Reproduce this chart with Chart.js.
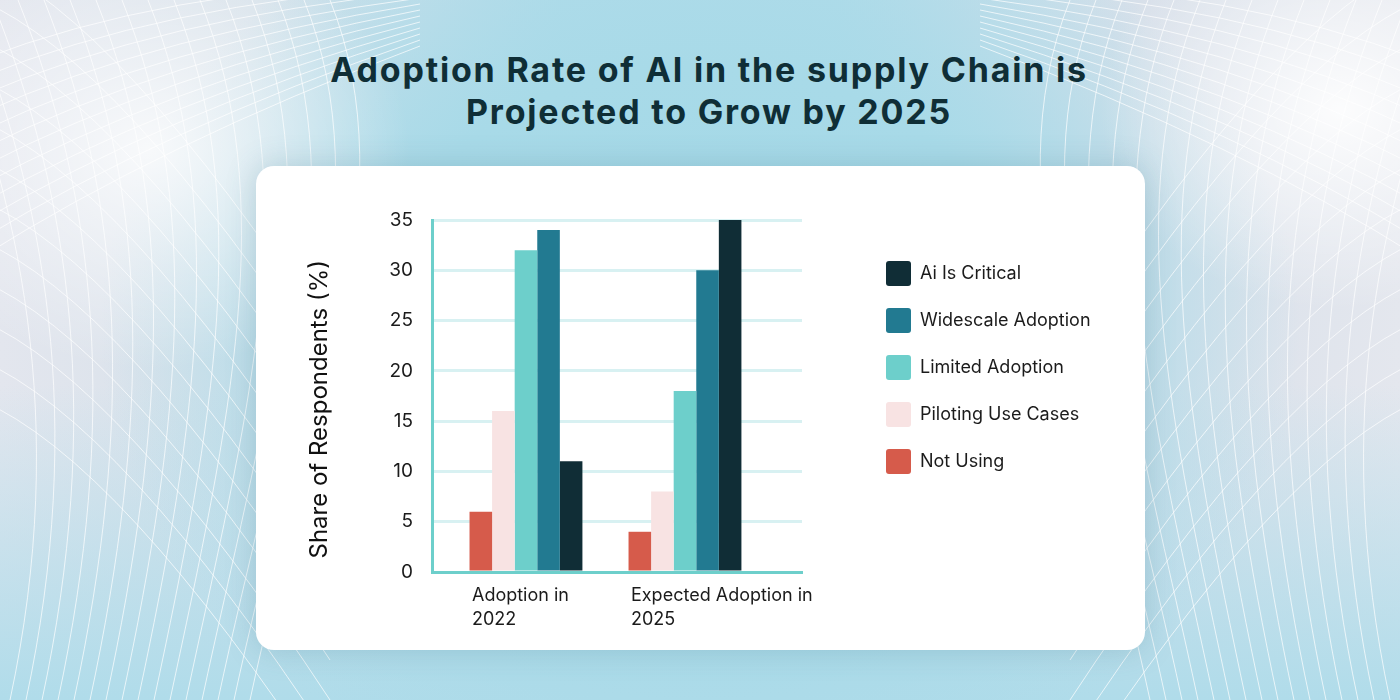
<!DOCTYPE html>
<html lang="en">
<head>
<meta charset="UTF-8">
<title>Adoption Rate of AI in the supply Chain</title>
<script src="https://cdn.jsdelivr.net/npm/chart.js"></script>
<style>
  html, body { margin: 0; padding: 0; }
  body {
    width: 1400px; height: 700px; overflow: hidden; position: relative;
    font-family: Inter, "Noto Sans", sans-serif;
    background:
      radial-gradient(ellipse 260px 220px at 150px 150px, rgba(255,255,255,0.8), rgba(255,255,255,0) 100%),
      radial-gradient(ellipse 240px 200px at 1340px 110px, rgba(255,255,255,0.9), rgba(255,255,255,0) 100%),
      radial-gradient(ellipse 600px 480px at 700px 330px, #a2d8e7 0%, #a8dae8 55%, rgba(168,218,232,0) 100%),
      linear-gradient(to bottom, rgba(170,218,234,0) 55%, #b0dcea 100%),
      linear-gradient(to right, #e3e6ee 0%, #d6e1ea 18%, #b3dcea 40%, #b3dcea 60%, #d8e0ea 82%, #e4e7ee 100%);
  }
  #mesh { position: absolute; left: 0; top: 0; }
  h1 {
    position: absolute; left: 9px; top: 49px; width: 1400px; margin: 0;
    text-align: center; font-size: 34px; line-height: 42px; font-weight: 700;
    letter-spacing: 1.8px; color: #0f2e36;
  }
  .card {
    position: absolute; left: 256px; top: 166px; width: 889px; height: 484px;
    background: #fff; border-radius: 18px;
    box-shadow: 0 0 30px rgba(70, 120, 140, 0.25);
  }
  #grafico { position: absolute; left: 0; top: 0; }
</style>
</head>
<body>
  <svg id="mesh" width="1400" height="700"></svg>
  <h1>Adoption Rate of AI in the supply Chain is<br>Projected to Grow by 2025</h1>
  <div class="card">
    <canvas id="grafico" width="889" height="484"></canvas>
  </div>

<script>
  // dados
  const categories = [['Adoption in', '2022'], ['Expected Adoption in', '2025']];
  const notUsing = [6, 4];
  const piloting = [16, 8];
  const limited = [32, 18];
  const widescale = [34, 30];
  const aiCritical = [11, 35];
  const yTicks = [0, 5, 10, 15, 20, 25, 30, 35];

  const seriesNames = ['Not Using', 'Piloting Use Cases', 'Limited Adoption', 'Widescale Adoption', 'Ai Is Critical'];
  const seriesColors = ['#d65b4b', '#f8e3e3', '#6dcfcb', '#227a91', '#102d36'];
  const seriesValues = [notUsing, piloting, limited, widescale, aiCritical];

  // fundo com linhas (so decoracao)
  function desenharMalha() {
    const svg = document.getElementById('mesh');
    let paths = '';
    for (let i = 0; i < 16; i++) {
      const x0 = -60 + i * 26;
      const x1 = 10 + i * 16;
      paths += `<path d="M${x0},0 C${x0 + 80},200 ${x1 + 60},420 ${x1},700" />`;
      const r0 = 1460 - i * 26;
      const r1 = 1390 - i * 16;
      paths += `<path d="M${r0},0 C${r0 - 80},200 ${r1 - 60},420 ${r1},700" />`;
    }
    for (let j = 0; j < 12; j++) {
      const y0 = -40 + j * 40;
      paths += `<path d="M-20,${y0} Q120,${y0 + 60} 330,${y0 + 380}" />`;
      paths += `<path d="M1420,${y0} Q1280,${y0 + 60} 1070,${y0 + 380}" />`;
      paths += `<path d="M-20,${60 + j * 18} Q160,${-10 + j * 14} 420,${-20 + j * 6}" />`;
      paths += `<path d="M1420,${60 + j * 18} Q1240,${-10 + j * 14} 980,${-20 + j * 6}" />`;
    }
    svg.innerHTML = `<g fill="none" stroke="#ffffff" stroke-opacity="0.7" stroke-width="1">${paths}</g>`;
  }
  desenharMalha();

  Chart.defaults.font.family = 'Inter, "Noto Sans", sans-serif';
  Chart.defaults.color = '#1b1b1b';

  // posiciona a legenda como no original
  const posicaoLegenda = {
    id: 'posicaoLegenda',
    afterLayout(chart) {
      const lg = chart.legend;
      lg.left = 608;
      lg.right = 889;
      lg.top = 73;
      lg.bottom = 484;
    }
  };

  const datasets = seriesValues.map(function (valores, i) {
    return {
      label: seriesNames[i],
      data: valores.map((v, k) => ({ x: k, y: v })),
      backgroundColor: seriesColors[i],
      borderWidth: 0,
      categoryPercentage: 0.71,
      barPercentage: 1
    };
  });

  const config = {
    type: 'bar',
    data: { datasets: datasets },
    options: {
      responsive: false,
      animation: false,
      layout: { padding: { left: 40, top: 54, right: 243, bottom: 18 } },
      plugins: {
        tooltip: { enabled: false },
        legend: {
          position: 'right',
          align: 'start',
          fullSize: false,
          maxWidth: 100,
          reverse: true,
          labels: {
            boxWidth: 25,
            boxHeight: 25,
            padding: 22,
            useBorderRadius: true,
            borderRadius: 3,
            color: '#1b1b1b',
            font: { size: 18 }
          }
        }
      },
      scales: {
        x: {
          type: 'linear',
          offset: false,
          min: -0.591,
          max: 1.736,
          grid: { display: false, drawTicks: false },
          border: { display: true, color: '#6dcfcb', width: 3 },
          afterBuildTicks: function (scale) {
            scale.ticks = categories.map((c, i) => ({ value: i }));
          },
          afterFit: function (scale) { scale.height = 60; },
          ticks: {
            align: 'start',
            labelOffset: -54,
            padding: 12,
            maxRotation: 0,
            autoSkip: false,
            color: '#1b1b1b',
            font: { size: 18, lineHeight: 1.3 },
            callback: function (value) { return categories[value]; }
          }
        },
        y: {
          min: yTicks[0],
          max: yTicks[yTicks.length - 1],
          grid: { color: '#d8f1f2', lineWidth: 3, drawTicks: false },
          border: { display: true, color: '#6dcfcb', width: 3 },
          afterFit: function (scale) { scale.width = 136; },
          ticks: {
            stepSize: yTicks[1] - yTicks[0],
            padding: 19,
            color: '#1b1b1b',
            font: { size: 19 }
          },
          title: {
            display: true,
            text: '  Share of Respondents (%)',
            align: 'start',
            color: '#111',
            font: { size: 24 },
            padding: { top: 9, bottom: 0 }
          }
        }
      }
    },
    plugins: [posicaoLegenda]
  };

  new Chart(document.getElementById('grafico'), config);
</script>
</body>
</html>
